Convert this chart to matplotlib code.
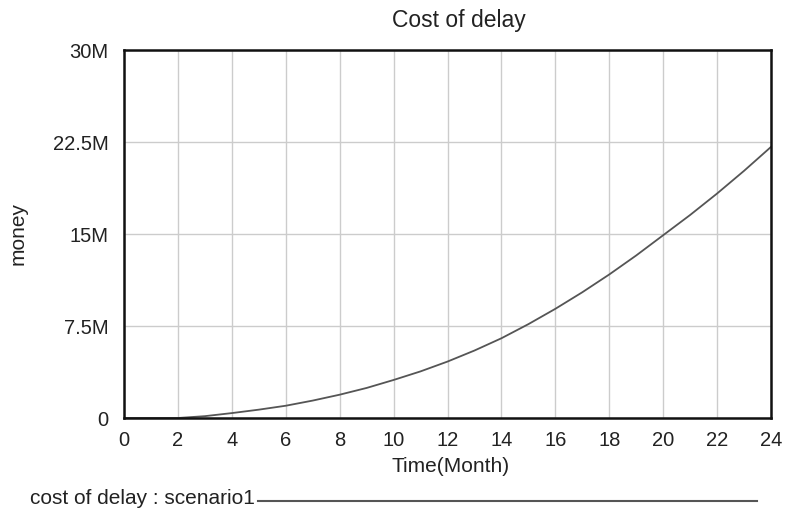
import matplotlib
matplotlib.use("Agg")
import matplotlib.pyplot as plt
from matplotlib.lines import Line2D

plt.rcParams['font.family'] = ['Liberation Sans', 'DejaVu Sans']

# Data (months, money in millions)
months = list(range(0, 25))
cost_m = [0, 0, 0, 0.15, 0.4, 0.68, 1.0, 1.42, 1.9, 2.45, 3.1, 3.8, 4.6,
          5.5, 6.5, 7.65, 8.9, 10.25, 11.7, 13.25, 14.9, 16.55, 18.3, 20.15, 22.1]
cost = [v * 1e6 for v in cost_m]

x_ticks = list(range(0, 25, 2))
y_ticks = [0, 7.5e6, 15e6, 22.5e6, 30e6]
y_tick_labels = ["0", "7.5M", "15M", "22.5M", "30M"]

title = "Cost of delay"
x_label = "Time(Month)"
y_label = "money"
legend_label = "cost of delay : scenario1"

fig = plt.figure(figsize=(7.87, 5.11), dpi=100)
ax = fig.add_axes([124/787, 1 - 418/511, (771-124)/787, (418-50)/511])

ax.plot(months, cost, color="#555555", lw=1.3)

ax.set_xlim(0, 24)
ax.set_ylim(0, 30e6)
ax.set_xticks(x_ticks)
ax.set_yticks(y_ticks)
ax.set_yticklabels(y_tick_labels)
ax.tick_params(axis='both', length=0, labelsize=14.5, colors="#222222")
ax.tick_params(axis='x', pad=9)
ax.tick_params(axis='y', pad=11)
ax.grid(True, color="#cccccc", lw=1)
for s in ax.spines.values():
    s.set_linewidth(1.8)
    s.set_color("#111111")

fig.text(459/787, 1 - 20/511, title, fontsize=16.5, color="#222222",
         ha="center", va="center")
ax.set_xlabel(x_label, fontsize=15, color="#222222")
ax.xaxis.set_label_coords((451-124)/(771-124), -(457-418)/(418-50))
ax.set_ylabel(y_label, fontsize=15, color="#222222")
ax.yaxis.set_label_coords(-(124-28)/(771-124), (418-233)/(418-50))

fig.text(30/787, 1 - 498/511, legend_label, fontsize=15, color="#222222",
         va="center", ha="left")
fig.add_artist(Line2D([258/787, 757/787], [1 - 501/511, 1 - 501/511],
                      color="#555555", lw=1.5, transform=fig.transFigure))

fig.savefig("out.png", dpi=100)
